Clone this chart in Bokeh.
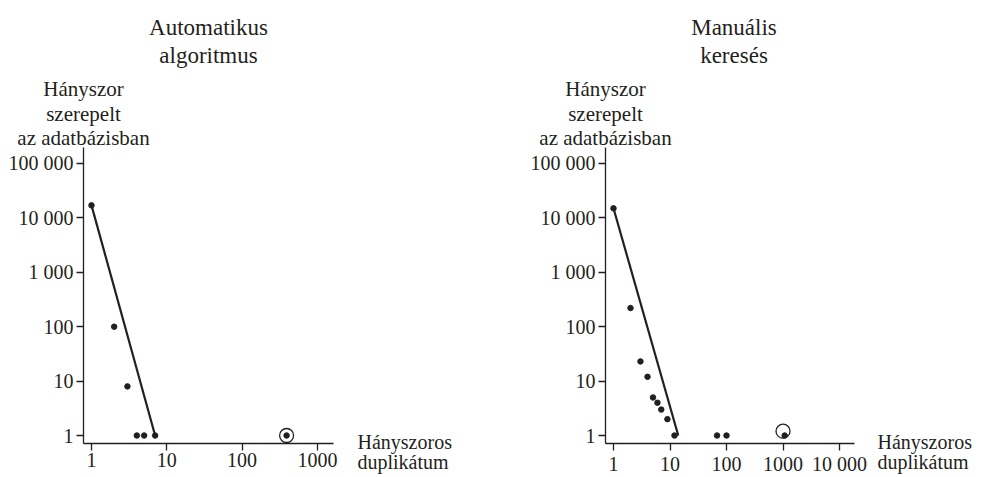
import math
from bokeh.plotting import figure
from bokeh.layouts import row
from bokeh.models import FixedTicker, Label, Range1d
from bokeh.embed import file_html
from bokeh.resources import INLINE

FONT = "Liberation Serif"
INK = "#231f20"

# ---- data ----
y_ticks = [1, 10, 100, 1000, 10000, 100000]
y_tick_labels = ["1", "10", "100", "1 000", "10 000", "100 000"]

auto_x_ticks = [1, 10, 100, 1000]
auto_x_tick_labels = ["1", "10", "100", "1000"]
manual_x_ticks = [1, 10, 100, 1000, 10000]
manual_x_tick_labels = ["1", "10", "100", "1000", "10 000"]

auto_title = ["Automatikus", "algoritmus"]
manual_title = ["Manuális", "keresés"]
y_label_lines = ["Hányszor", "szerepelt", "az adatbázisban"]
x_label_lines = ["Hányszoros", "duplikátum"]

auto_x = [1, 2, 3, 4, 5, 7, 390]
auto_y = [17000, 100, 8, 1, 1, 1, 1]
auto_fit_x = [1, 7]
auto_fit_y = [17000, 1]
auto_mark_x = [390]
auto_mark_y = [1]

manual_x = [1, 2, 3, 4, 5, 6, 7, 9, 12, 68, 100, 1070]
manual_y = [15000, 220, 23, 12, 5, 4, 3, 2, 1, 1, 1, 1]
manual_fit_x = [1, 14]
manual_fit_y = [15000, 1]
manual_mark_x = [1000]
manual_mark_y = [1.2]

# ---- layout (pixels) ----
H = 477
FT, FB = 147, 443          # frame top / bottom
Y_RANGE = (0.713, 196800)


def to_data(p0, p1, lo, hi, pix, invert=False):
    a, b = math.log10(lo), math.log10(hi)
    f = (pix - p0) / (p1 - p0)
    if invert:
        f = 1 - f
    return 10 ** (a + f * (b - a))


def panel(xs, ys, fx, fy, mx, my, xt, xl, xr, title, x0, width, fl, fr,
          title_cx, xlab_left):
    bl = fl - x0
    br = x0 + width - fr
    p = figure(width=width, height=H, x_axis_type="log", y_axis_type="log",
               x_range=Range1d(*xr), y_range=Range1d(*Y_RANGE),
               output_backend="svg", toolbar_location=None,
               min_border_left=bl, min_border_right=br,
               min_border_top=FT, min_border_bottom=H - FB)
    p.outline_line_color = None
    p.grid.visible = False
    p.background_fill_color = "white"
    p.border_fill_color = "white"

    for ax in (p.xaxis[0], p.yaxis[0]):
        ax.axis_line_color = INK
        ax.axis_line_width = 1.3
        ax.major_tick_line_color = INK
        ax.major_tick_line_width = 1.3
        ax.major_tick_in = 0
        ax.major_tick_out = 7
        ax.minor_tick_line_color = None
        ax.major_label_text_font = FONT
        ax.major_label_text_font_size = "20px"
        ax.major_label_text_color = INK
    p.xaxis.ticker = FixedTicker(ticks=xt)
    p.xaxis.major_label_overrides = {t: l for t, l in zip(xt, xl)}
    p.xaxis.major_label_standoff = 2
    p.yaxis.ticker = FixedTicker(ticks=y_ticks)
    p.yaxis.major_label_overrides = {t: l for t, l in zip(y_ticks, y_tick_labels)}
    p.yaxis.major_label_standoff = 3

    p.line(fx, fy, line_color=INK, line_width=2.2)
    p.scatter(xs, ys, size=5.5, fill_color=INK, line_color=INK)
    p.scatter(mx, my, size=14, fill_color=None, line_color=INK, line_width=1.3)

    def dx(px):
        return to_data(fl, fr, xr[0], xr[1], px)

    def dy(py):
        return to_data(FT, FB, Y_RANGE[0], Y_RANGE[1], py, invert=True)

    for t, base in zip(title, [27, 55]):
        p.add_layout(Label(x=dx(title_cx), y=dy(base), text=t, text_font=FONT,
                           text_font_size="23px", text_align="center",
                           text_baseline="alphabetic", text_color=INK), "above")
    for t, base in zip(y_label_lines, [88, 113, 137]):
        p.add_layout(Label(x=dx(fl), y=dy(base), text=t, text_font=FONT,
                           text_font_size="21px", text_align="center",
                           text_baseline="alphabetic", text_color=INK), "above")
    p.add_layout(Label(x=dx(xlab_left), y=dy(430), text="\n".join(x_label_lines),
                       text_font=FONT, text_font_size="20px", text_align="left",
                       text_baseline="top", text_line_height=0.92,
                       text_color=INK), "right")
    return p


p1 = panel(auto_x, auto_y, auto_fit_x, auto_fit_y, auto_mark_x, auto_mark_y,
           auto_x_ticks, auto_x_tick_labels, (0.783, 1637), auto_title,
           0, 490, 83, 333, 208, 357)
p2 = panel(manual_x, manual_y, manual_fit_x, manual_fit_y, manual_mark_x, manual_mark_y,
           manual_x_ticks, manual_x_tick_labels, (0.722, 18400), manual_title,
           490, 494, 605, 854, 733.5, 877)

layout = row(p1, p2)
open("out.html", "w").write(file_html(layout, INLINE))
